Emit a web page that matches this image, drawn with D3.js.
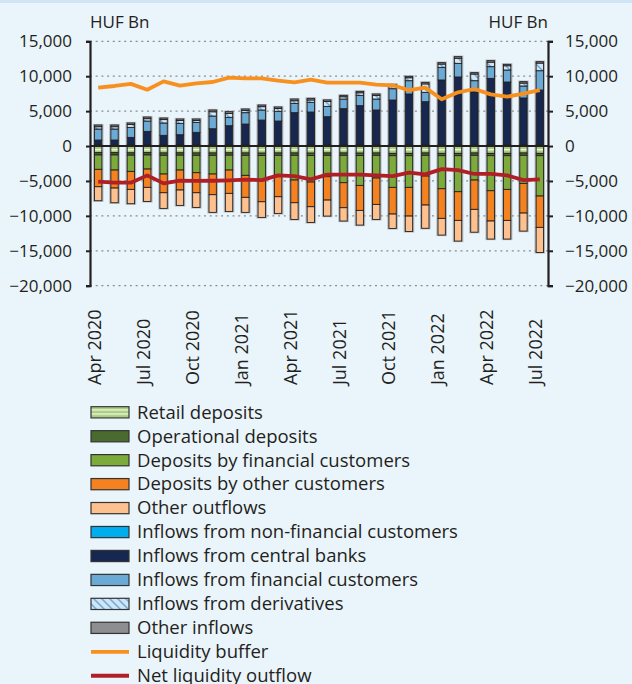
<!DOCTYPE html>
<html><head><meta charset="utf-8">
<script src="https://cdn.jsdelivr.net/npm/d3@7"></script>
<style>html,body{margin:0;padding:0;background:#eaf4fb;} svg{display:block;font-family:"Open Sans",sans-serif;}</style>
</head><body><svg id="c" width="632" height="684"></svg>
<script>
const months = ["Apr 2020","May 2020","Jun 2020","Jul 2020","Aug 2020","Sep 2020","Oct 2020","Nov 2020","Dec 2020",
  "Jan 2021","Feb 2021","Mar 2021","Apr 2021","May 2021","Jun 2021","Jul 2021","Aug 2021","Sep 2021","Oct 2021","Nov 2021","Dec 2021",
  "Jan 2022","Feb 2022","Mar 2022","Apr 2022","May 2022","Jun 2022","Jul 2022"];
const tickMonths = ["Apr 2020","Jul 2020","Oct 2020","Jan 2021","Apr 2021","Jul 2021","Oct 2021","Jan 2022","Apr 2022","Jul 2022"];
const yTicks = [15000,10000,5000,0,-5000,-10000,-15000,-20000];

// Inflows (HUF Bn)
const inflowNonFinancial = [150,120,150,150,150,150,150,150,150,150,150,150,150,150,150,150,150,150,150,150,150,150,150,150,150,150,150,150];
const inflowCentralBanks = [710,740,1090,1950,1380,1470,1810,2330,2760,3000,3570,3430,4630,4720,4050,5200,5630,5010,6440,7300,6200,9310,9740,7590,9540,9020,6730,7870];
const inflowFinancial = [1580,1580,1430,1480,1770,1630,1430,1820,1200,1630,1440,1390,1330,1390,1480,1380,1480,1570,1620,1910,1340,1810,1950,1620,1680,1720,1720,2770];
const inflowDerivatives = [330,330,410,340,490,400,260,610,570,300,480,400,380,340,700,330,370,500,400,420,1210,470,730,950,640,610,420,1090];
const inflowOther = [240,240,220,230,220,220,220,250,240,220,230,220,240,230,220,200,200,220,220,200,220,200,230,200,220,200,200,200];

// Outflows (HUF Bn, magnitudes)
const retailDeposits = [950,950,980,950,1000,980,1000,1000,980,1000,1020,1000,1000,1020,1000,1000,1020,1000,1050,1050,1000,1050,1050,1000,1050,1050,1000,1050];
const operationalDeposits = [330,330,330,330,330,330,330,330,330,330,330,330,330,330,330,330,330,330,330,330,330,330,330,330,330,330,330,330];
const depositsFinancial = [2060,2160,2320,2020,2680,2130,2490,2680,2130,2870,3620,2820,3540,3810,3060,3920,4290,3250,4540,4540,2970,4730,5160,3540,5020,4830,4020,5780];
const depositsOther = [2490,2580,2580,2620,2680,2860,2870,2960,3340,3150,3010,3110,3250,3530,3350,3580,3580,3780,3820,4110,4150,4250,4110,4200,4340,4440,4250,4490];
const otherOutflows = [2000,2100,2050,2010,2240,2200,2100,2530,2580,2150,2240,2390,2390,2250,2290,1910,2100,2150,2060,2200,3330,2390,2960,3270,2580,2670,2580,3590];

const liquidityBuffer = [8360,8600,8900,8070,9260,8640,8980,9170,9800,9700,9700,9360,9120,9500,9070,9070,9070,8800,8700,8000,8360,6700,7700,8170,7400,7070,7500,8000];
const netOutflow = [-5100,-5250,-5250,-4200,-5350,-4970,-5000,-4970,-4920,-4820,-4870,-4200,-4300,-4780,-4100,-4100,-4100,-4200,-4300,-3800,-4060,-3300,-3440,-4000,-4000,-4200,-4870,-4780];

const series = [
  {key:"Retail deposits", vals:retailDeposits, sign:-1, fill:"url(#retail)"},
  {key:"Operational deposits", vals:operationalDeposits, sign:-1, fill:"#4b6a2e"},
  {key:"Deposits by financial customers", vals:depositsFinancial, sign:-1, fill:"#7cab3c"},
  {key:"Deposits by other customers", vals:depositsOther, sign:-1, fill:"#f58220"},
  {key:"Other outflows", vals:otherOutflows, sign:-1, fill:"#fdc18f"},
  {key:"Inflows from non-financial customers", vals:inflowNonFinancial, sign:1, fill:"#00aeef"},
  {key:"Inflows from central banks", vals:inflowCentralBanks, sign:1, fill:"#16284f"},
  {key:"Inflows from financial customers", vals:inflowFinancial, sign:1, fill:"#6aaad4"},
  {key:"Inflows from derivatives", vals:inflowDerivatives, sign:1, fill:"url(#deriv)"},
  {key:"Other inflows", vals:inflowOther, sign:1, fill:"#8d8e90"}
];

const table = months.map((m,i)=>{
  const row = {month:m};
  series.forEach(s=>{ row[s.key] = s.sign*s.vals[i]; });
  return row;
});

const svg = d3.select("#c");
svg.append("rect").attr("width",632).attr("height",684).attr("fill","#eaf4fb");
svg.append("rect").attr("width",632).attr("height",3).attr("fill","#cfe5f5");

const defs = svg.append("defs");
const pr = defs.append("pattern").attr("id","retail").attr("patternUnits","userSpaceOnUse").attr("width",6).attr("height",4);
pr.append("rect").attr("width",6).attr("height",4).attr("fill","#a8cd7c");
pr.append("rect").attr("y",1).attr("width",6).attr("height",1.4).attr("fill","#eef6e2");
const pd = defs.append("pattern").attr("id","deriv").attr("patternUnits","userSpaceOnUse").attr("width",8).attr("height",8);
pd.append("rect").attr("width",8).attr("height",8).attr("fill","#d2e5f4");
pd.append("path").attr("d","M0,0L8,8M-4,4L4,12M4,-4L12,4").attr("stroke","#6aaad4").attr("stroke-width",1.5);

const x = d3.scaleBand().domain(months).range([90,548]).paddingInner(0.55).paddingOuter(0.275);
const y = d3.scaleLinear().domain([-20000,15000]).range([285.7,41.3]);

// gridlines
svg.append("g").selectAll("line").data(yTicks.filter(v=>v!==0)).join("line")
  .attr("x1",90).attr("x2",548).attr("y1",d=>y(d)).attr("y2",d=>y(d))
  .attr("stroke","#8a8c8e").attr("stroke-width",1.2).attr("stroke-dasharray","2,3.7");

const stack = d3.stack().keys(series.map(s=>s.key)).offset(d3.stackOffsetDiverging);
const stacked = stack(table);

// halo
svg.append("g").selectAll("rect").data(table).join("rect")
  .attr("x",d=>x(d.month)-0.5).attr("width",x.bandwidth()+1)
  .attr("y",(d,i)=>y(d3.max(stacked,l=>l[i][1])))
  .attr("height",(d,i)=>y(d3.min(stacked,l=>l[i][0]))-y(d3.max(stacked,l=>l[i][1])))
  .attr("fill","none").attr("stroke","#8c8f92").attr("stroke-width",2.2).attr("opacity",0.6);

svg.append("g").selectAll("g").data(stacked).join("g")
  .attr("fill",(d,i)=>series[i].fill)
  .selectAll("rect").data(d=>d).join("rect")
  .attr("x",d=>x(d.data.month)).attr("width",x.bandwidth())
  .attr("y",d=>y(Math.max(d[0],d[1]))).attr("height",d=>Math.abs(y(d[0])-y(d[1])))
  .attr("stroke","#231f20").attr("stroke-width",0.9);

// zero line
svg.append("line").attr("x1",90).attr("x2",548).attr("y1",y(0)).attr("y2",y(0)).attr("stroke","#231f20").attr("stroke-width",2);

// lines
const cx = m => x(m)+x.bandwidth()/2;
const lineGen = arr => d3.line().x((d,i)=>cx(months[i])).y(d=>y(d))(arr);
svg.append("path").attr("d",lineGen(liquidityBuffer)).attr("fill","none").attr("stroke","#f7901e").attr("stroke-width",3.8).attr("stroke-linejoin","round");
svg.append("path").attr("d",lineGen(netOutflow)).attr("fill","none").attr("stroke","#b01f25").attr("stroke-width",3.8).attr("stroke-linejoin","round");

// axes
const fmt = d3.format(",");
const axL = svg.append("g").attr("transform","translate(90,0)")
  .call(d3.axisLeft(y).tickValues(yTicks).tickFormat(fmt).tickSize(4).tickPadding(14));
const axR = svg.append("g").attr("transform","translate(548,0)")
  .call(d3.axisRight(y).tickValues(yTicks).tickFormat(fmt).tickSize(5).tickPadding(12));
[axL,axR].forEach(a=>{
  a.select(".domain").attr("stroke","#231f20").attr("stroke-width",2.2);
  a.selectAll(".tick line").attr("stroke","#231f20").attr("stroke-width",2);
  a.selectAll("text").attr("font-size",17).attr("fill","#231f20").attr("font-family","Open Sans");
});

svg.append("text").attr("x",90).attr("y",28).attr("font-size",17).attr("fill","#231f20").text("HUF Bn");
svg.append("text").attr("x",548).attr("y",28).attr("text-anchor","end").attr("font-size",17).attr("fill","#231f20").text("HUF Bn");

// x labels
svg.append("g").selectAll("text").data(tickMonths).join("text")
  .attr("transform",d=>`translate(${cx(d)+2.5},385) rotate(-90)`)
  .attr("font-size",18).attr("fill","#231f20").text(d=>d);

// legend
const legendItems = series.map(s=>({label:s.key, type:"rect", fill:s.fill}))
  .concat([{label:"Liquidity buffer", type:"line", fill:"#f7901e"},{label:"Net liquidity outflow", type:"line", fill:"#b01f25"}]);
const lg = svg.append("g").selectAll("g").data(legendItems).join("g")
  .attr("transform",(d,i)=>`translate(91,${412.3+i*23.95})`);
lg.filter(d=>d.type==="rect").append("rect").attr("x",0).attr("y",-5.6).attr("width",38).attr("height",11.2)
  .attr("fill",d=>d.fill).attr("stroke","#333").attr("stroke-width",1.2);
lg.filter(d=>d.type==="line").append("line").attr("x1",0).attr("x2",38).attr("y1",0).attr("y2",0)
  .attr("stroke",d=>d.fill).attr("stroke-width",3.8);
lg.append("text").attr("x",46).attr("y",6.3).attr("font-size",18.5).attr("fill","#231f20").text(d=>d.label);
</script></body></html>
